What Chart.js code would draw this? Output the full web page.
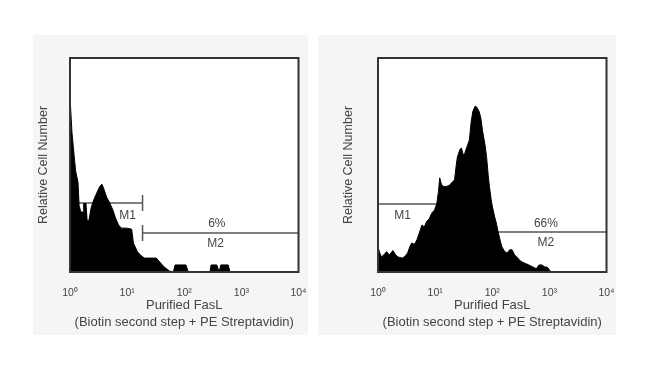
<!DOCTYPE html>
<html>
<head>
<meta charset="utf-8">
<script src="https://cdn.jsdelivr.net/npm/chart.js@4.4.1/dist/chart.umd.min.js"></script>
<style>
  body { margin: 0; width: 650px; height: 366px; background: #fff; position: relative; overflow: hidden; }
  .card { position: absolute; top: 35px; height: 300px; background: #f5f5f5; }
  .plot { position: absolute; top: 35px; width: 275px; height: 300px; }
</style>
</head>
<body>
<div class="card" style="left:33px;width:275px"></div>
<div class="card" style="left:318px;width:298px"></div>
<div class="plot" style="left:33px"><canvas id="leftChart"></canvas></div>
<div class="plot" style="left:341px"><canvas id="rightChart"></canvas></div>
<script>
// x positions are in decades (log10 of fluorescence), counts are relative cell numbers
const tickLabels = ['10⁰', '10¹', '10²', '10³', '10⁴'];

const leftLog = [0, 0.035, 0.07, 0.10, 0.14, 0.16, 0.19, 0.23, 0.24, 0.28, 0.30, 0.33, 0.37, 0.42, 0.47, 0.52,
  0.56, 0.59, 0.64, 0.70, 0.75, 0.80, 0.85, 0.90, 0.99, 1.08, 1.11, 1.18, 1.23, 1.30, 1.51, 1.57, 1.65, 1.74,
  1.81, 1.84, 2.03, 2.07, 2.45, 2.47, 2.57, 2.61, 2.64, 2.77, 2.80, 4];
const leftCounts = [82, 65, 55, 47, 42, 31, 28, 28, 32, 32, 24, 24, 30, 34, 37, 40,
  41, 39, 35, 32, 29, 25, 22, 20.5, 20.5, 20, 13.5, 9.5, 8, 6.5, 6.5, 4.7, 2.3, 0.5,
  0, 3.3, 3.3, 0, 0, 3.3, 3.3, 0, 3.3, 3.3, 0, 0];

const rightLog = [0, 0.03, 0.06, 0.10, 0.15, 0.20, 0.26, 0.31, 0.35, 0.43, 0.48, 0.52, 0.56, 0.59, 0.64, 0.68,
  0.72, 0.77, 0.81, 0.85, 0.90, 0.94, 0.99, 1.03, 1.06, 1.08, 1.11, 1.14, 1.20, 1.25, 1.30, 1.34, 1.37, 1.39,
  1.43, 1.46, 1.49, 1.51, 1.55, 1.60, 1.63, 1.66, 1.70, 1.73, 1.77, 1.80, 1.83, 1.87, 1.90, 1.93, 1.95, 1.98,
  2.00, 2.04, 2.07, 2.10, 2.12, 2.15, 2.17, 2.22, 2.26, 2.31, 2.35, 2.39, 2.43, 2.48, 2.52, 2.58, 2.64, 2.70,
  2.77, 2.82, 2.87, 2.92, 2.96, 3.03, 4];
const rightCounts = [11.7, 9, 7, 8, 9.5, 8, 10, 8, 7, 6.5, 7.5, 9, 12, 13.5, 13, 15,
  18, 22, 21, 23.5, 25, 27.5, 29, 32, 38, 44, 41, 40, 40, 40.5, 42, 43, 50, 53.7,
  57, 58, 55, 54.7, 58, 61.7, 70, 75, 77.5, 77, 75, 72, 66, 60, 54, 45, 40, 34,
  30.8, 26, 23, 19, 16.8, 13.5, 11.7, 9.5, 8.9, 10.5, 10.3, 8, 7, 5.5, 4.7, 4, 3.3, 2.5,
  1.5, 3.3, 3.3, 2.3, 2.3, 0, 0];

// marker gates: [start, end, level]
const leftM1 = [0, 1.27, 32.2];
const leftM2 = [1.27, 4, 18.2];
const rightM1 = [0, 1.27, 31.8];
const rightM2 = [1.27, 4, 18.7];

const leftTexts = [{ x: 1.01, y: 26.5, text: 'M1' }, { x: 2.57, y: 22.5, text: '6%' }, { x: 2.55, y: 13, text: 'M2' }];
const rightTexts = [{ x: 0.43, y: 26.5, text: 'M1' }, { x: 2.94, y: 22.5, text: '66%' }, { x: 2.94, y: 13.5, text: 'M2' }];

const FONT = '"Liberation Sans", Arial, sans-serif';

const frame = {
  id: 'frame',
  beforeDraw(chart) {
    const { ctx, chartArea: a } = chart;
    ctx.save();
    ctx.fillStyle = '#fff';
    ctx.fillRect(a.left, a.top, a.width, a.height);
    ctx.restore();
  },
  afterDatasetsDraw(chart) {
    const { ctx, chartArea: a } = chart;
    ctx.save();
    ctx.strokeStyle = '#333';
    ctx.lineWidth = 2;
    ctx.strokeRect(a.left, a.top, a.width, a.height);
    ctx.restore();
  }
};

const gateText = {
  id: 'gateText',
  afterDatasetsDraw(chart, args, opts) {
    const { ctx, scales: { x, y } } = chart;
    ctx.save();
    ctx.font = '12px ' + FONT;
    ctx.fillStyle = '#444';
    ctx.textAlign = 'center';
    ctx.textBaseline = 'middle';
    (opts.items || []).forEach(t => ctx.fillText(t.text, x.getPixelForValue(t.x), y.getPixelForValue(t.y)));
    ctx.restore();
  }
};

const gate = (g, bars) => ({
  data: [{ x: g[0], y: g[2] }, { x: g[1], y: g[2] }],
  borderColor: '#555',
  borderWidth: 1.5,
  pointStyle: 'line',
  rotation: 90,
  pointRadius: bars,
  pointBorderColor: '#555',
  pointBorderWidth: 1.5,
  fill: false,
  order: 1
});

function makeChart(id, xs, counts, m1, m2, texts, yTitlePad) {
  new Chart(document.getElementById(id), {
    type: 'line',
    data: {
      datasets: [
        {
          data: xs.map((v, i) => ({ x: v, y: counts[i] })),
          borderColor: '#000',
          backgroundColor: '#000',
          borderWidth: 1,
          pointRadius: 0,
          tension: 0,
          fill: 'origin',
          order: 0
        },
        gate(m1, [0, 8]),
        gate(m2, [8, 0])
      ]
    },
    options: {
      responsive: true,
      maintainAspectRatio: false,
      animation: false,
      layout: { padding: { top: 23, right: 0, left: 0, bottom: 0 } },
      plugins: { legend: { display: false }, tooltip: { enabled: false }, gateText: { items: texts } },
      scales: {
        x: {
          type: 'linear', min: 0, max: 4,
          grid: { display: false }, border: { display: false },
          ticks: {
            stepSize: 1, autoSkip: false, maxRotation: 0, padding: 7,
            color: '#444', font: { family: FONT, size: 10.5 },
            callback: v => tickLabels[v] ?? ''
          },
          title: {
            display: true,
            text: ['Purified FasL', '(Biotin second step + PE Streptavidin)'],
            color: '#444', font: { family: FONT, size: 13, lineHeight: 1.3 },
            padding: { top: 0, bottom: 4.5 }
          },
          afterFit: s => { s.height = 63; s.paddingRight = 6; }
        },
        y: {
          min: 0, max: 100,
          grid: { display: false }, border: { display: false },
          ticks: { display: false },
          title: {
            display: true, text: 'Relative Cell Number',
            color: '#444', font: { family: FONT, size: 12.5 },
            padding: { top: yTitlePad, bottom: 0 }
          },
          afterFit: s => { s.width = 37; }
        }
      }
    },
    plugins: [frame, gateText]
  });
}

makeChart('leftChart', leftLog, leftCounts, leftM1, leftM2, leftTexts, 3.5);
makeChart('rightChart', rightLog, rightCounts, rightM1, rightM2, rightTexts, 0);
</script>
</body>
</html>
